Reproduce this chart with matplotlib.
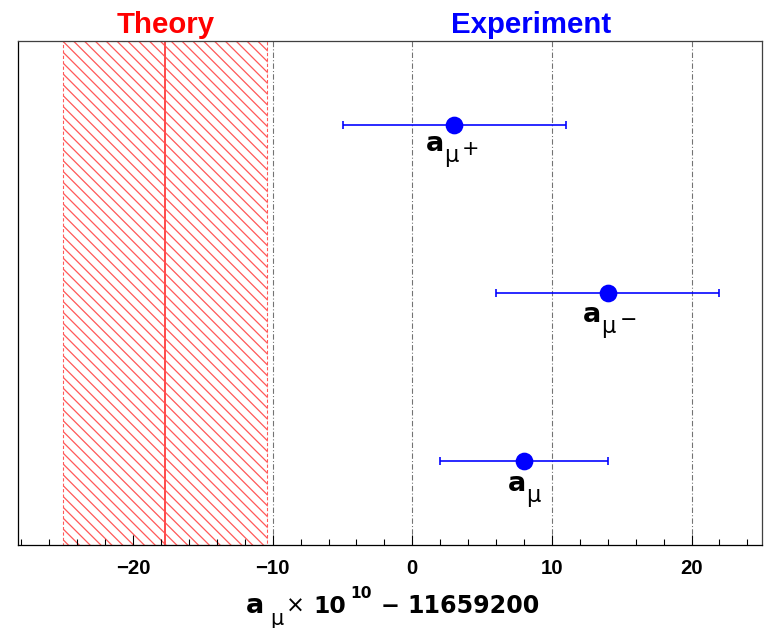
import matplotlib
matplotlib.use("Agg")
import matplotlib.pyplot as plt
from matplotlib.ticker import MultipleLocator
import matplotlib.transforms as mtransforms

# ---- data ----
label_signs = ['+', '−', '']
values = [3.0, 14.0, 8.0]
errors = [8.0, 8.0, 6.0]
ypos = [2.5, 1.5, 0.5]
theory_center = -17.7
theory_halfwidth = 7.3
grid_lines = [-10, 0, 10, 20]

DPI = 130
W, H = 765, 628
PT = 72.0 / DPI  # points per pixel
WIDE = ['DejaVu Sans']

plt.rcParams['font.family'] = ['Liberation Sans', 'DejaVu Sans']
plt.rcParams['hatch.linewidth'] = 0.7

fig = plt.figure(figsize=(W / DPI, H / DPI), dpi=DPI)
ax = fig.add_axes([18 / W, 83 / H, 744 / W, 504 / H])
ax.set_xlim(-28.25, 25.05)
ax.set_ylim(0, 3)

# theory band
ax.axvspan(theory_center - theory_halfwidth, theory_center + theory_halfwidth,
           facecolor='none', edgecolor=(1.0, 0.35, 0.35), hatch='\\\\\\\\',
           linestyle=(0, (3, 2)), linewidth=0.6, zorder=1)
ax.axvline(theory_center, color=(1.0, 0.3, 0.3), linewidth=1.1, zorder=2)

for g in grid_lines:
    ax.axvline(g, color='0.45', linewidth=0.6, linestyle=(0, (5, 2, 1, 2)), zorder=1)

ax.errorbar(values, ypos, xerr=errors, fmt='o', color='blue', ecolor='blue',
            markersize=8.8, elinewidth=0.9, capsize=2.0, capthick=0.9, zorder=3)

# point labels: a (bold) + subscript mu + superscript sign, offsets in pixels
anchors = [(-28.5, -26), (-24.5, -29), (-16, -30)]
for sign, v, y, (dx, dy) in zip(label_signs, values, ypos, anchors):
    ax.annotate('a', (v, y), xytext=(dx * PT, dy * PT), textcoords='offset points',
                fontsize=15, fontweight='bold', family=WIDE, ha='left', va='baseline')
    ax.annotate('μ', (v, y), xytext=((dx + 18) * PT, (dy - 11) * PT),
                textcoords='offset points', fontsize=12.5, family=WIDE,
                ha='left', va='baseline')
    if sign:
        ax.annotate(sign, (v, y), xytext=((dx + 36) * PT, (dy - 4) * PT),
                    textcoords='offset points', fontsize=11.5, family=WIDE,
                    ha='left', va='baseline')

trans = mtransforms.blended_transform_factory(ax.transData, ax.transAxes)
ax.text(theory_center, 1.016, 'Theory', transform=trans, ha='center', va='baseline',
        color='red', fontsize=16.3, fontweight='bold')
ax.text(8.5, 1.016, 'Experiment', transform=trans, ha='center', va='baseline',
        color='blue', fontsize=16.3, fontweight='bold')

ax.xaxis.set_major_locator(MultipleLocator(10))
ax.xaxis.set_minor_locator(MultipleLocator(2))
ax.tick_params(axis='x', which='both', direction='in', top=False, bottom=True,
               labelsize=11.3, pad=7.5, width=0.6)
ax.tick_params(axis='x', which='major', length=5.5)
ax.tick_params(axis='x', which='minor', length=3.5)
ax.set_yticks([])
for lbl in ax.get_xticklabels():
    lbl.set_fontweight('bold')
for s in ax.spines.values():
    s.set_linewidth(0.7)
    s.set_color('0.25')
ax.spines['bottom'].set_color('black')
ax.spines['left'].set_color('black')

# x-axis title built from pieces: (text, left px, baseline px, size, weight)
xtitle = [
    ('a', 246, 613, 15, 'bold'),
    ('μ', 270, 625, 11.5, 'normal'),
    ('×', 286, 613, 12.5, 'normal'),
    ('10', 313, 613, 13, 'bold'),
    ('10', 350, 598, 8.6, 'bold'),
    ('−', 381, 613, 12.5, 'bold'),
    ('11659200', 407, 613, 13.2, 'bold'),
]
for s, x, yb, fs, fw in xtitle:
    fig.text(x / W, 1 - yb / H, s, fontsize=fs, fontweight=fw, family=WIDE,
             ha='left', va='baseline')

fig.savefig('out.png', dpi=DPI)
